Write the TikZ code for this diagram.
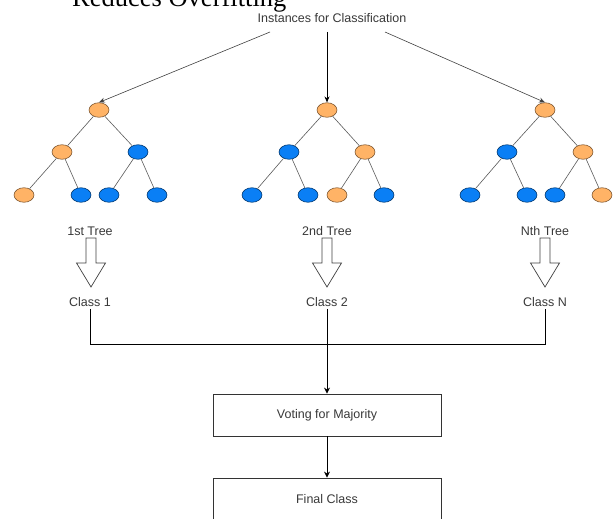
\documentclass[tikz,border=0pt]{standalone}
\usepackage{fontspec}
\setmainfont{Liberation Sans}
\newfontfamily\serifrm{Liberation Serif}
\usetikzlibrary{shapes.geometric,arrows.meta}
\definecolor{orng}{HTML}{FFB366}
\definecolor{blu}{HTML}{0A7FF5}
\begin{document}
\begin{tikzpicture}[x=1pt,y=-1pt,
  onode/.style={ellipse,minimum width=20pt,minimum height=14.5pt,inner sep=0pt,fill=orng,draw=orng!50!black,line width=0.6pt},
  bnode/.style={ellipse,minimum width=20pt,minimum height=14.5pt,inner sep=0pt,fill=blu,draw=blu!45!black,line width=0.6pt},
  edge/.style={draw=black!65,line width=0.6pt},
  lbl/.style={font=\fontsize{12.5}{14}\selectfont,text=black!78,inner sep=2pt},
  conn/.style={draw=black,line width=0.9pt},
  thin/.style={draw=black!75,line width=0.6pt,-{Stealth[length=6pt,width=5pt]}},
  arr/.style={conn,-{Stealth[length=6pt,width=6pt]}},
  box/.style={draw=black!80,line width=0.8pt,minimum width=228pt,minimum height=42pt,inner sep=0pt,lbl},
  blk/.style={draw=black!75,line width=0.7pt,fill=white,line join=miter}]
\useasboundingbox (0,0) rectangle (614,519);
\clip (0,0) rectangle (614,519);

\node[anchor=base west,font=\serifrm\fontsize{26.5}{30}\selectfont,inner sep=0pt] (title) at (72,6.5) {Reduces Overfitting};

\node[lbl] (inst) at (332,18) {Instances for Classification};
\coordinate (s1) at (270,32);
\coordinate (s2) at (327,32);
\coordinate (s3) at (385,32);

% tree 1
\node[onode] (r1) at (99,110) {};
\node[onode] (a1) at (62,152) {};
\node[bnode] (b1) at (138,152) {};
\node[onode] (l11) at (24,195) {};
\node[bnode] (l12) at (81,195) {};
\node[bnode] (l13) at (109,195) {};
\node[bnode] (l14) at (157,195) {};
% tree 2
\node[onode] (r2) at (327,110) {};
\node[bnode] (a2) at (289,152) {};
\node[onode] (b2) at (365,152) {};
\node[bnode] (l21) at (252,195) {};
\node[bnode] (l22) at (308,195) {};
\node[onode] (l23) at (337,195) {};
\node[bnode] (l24) at (384,195) {};
% tree 3
\node[onode] (r3) at (545,110) {};
\node[bnode] (a3) at (507,152) {};
\node[onode] (b3) at (583,152) {};
\node[bnode] (l31) at (470,195) {};
\node[bnode] (l32) at (527,195) {};
\node[bnode] (l33) at (555,195) {};
\node[onode] (l34) at (602,195) {};

\foreach \t in {1,2,3}{
  \draw[edge] (r\t) -- (a\t);
  \draw[edge] (r\t) -- (b\t);
  \draw[edge] (a\t) -- (l\t1);
  \draw[edge] (a\t) -- (l\t2);
  \draw[edge] (b\t) -- (l\t3);
  \draw[edge] (b\t) -- (l\t4);
}

\draw[thin] (s1) -- (r1.north);
\draw[thin,draw=black,line width=0.9pt] (s2) -- (r2.north);
\draw[thin] (s3) -- (r3.north);

% tree labels
\node[lbl] (t1) at (90,231) {1st Tree};
\node[lbl] (t2) at (327,231) {2nd Tree};
\node[lbl] (t3) at (545,231) {Nth Tree};

% block arrows
\foreach \cx in {91,327,545}{
  \draw[blk] (\cx-5,238) -- (\cx+5,238) -- (\cx+5,263) -- (\cx+14.5,263) -- (\cx,287) -- (\cx-14.5,263) -- (\cx-5,263) -- cycle;
}

% classes
\node[lbl] (c1) at (90,302) {Class 1};
\node[lbl] (c2) at (327,302) {Class 2};
\node[lbl] (c3) at (545,302) {Class N};

\node[box] (vote) at (327,415) {Voting for Majority};
\node[box] (final) at (327,499) {Final Class};

\coordinate (j) at (327,344);
\draw[conn] (c1.south) -- (c1.south |- j) -- (c3.south |- j) -- (c3.south);
\draw[arr] (c2.south) -- (vote.north);
\draw[arr] (vote.south) -- (final.north);
\end{tikzpicture}
\end{document}
